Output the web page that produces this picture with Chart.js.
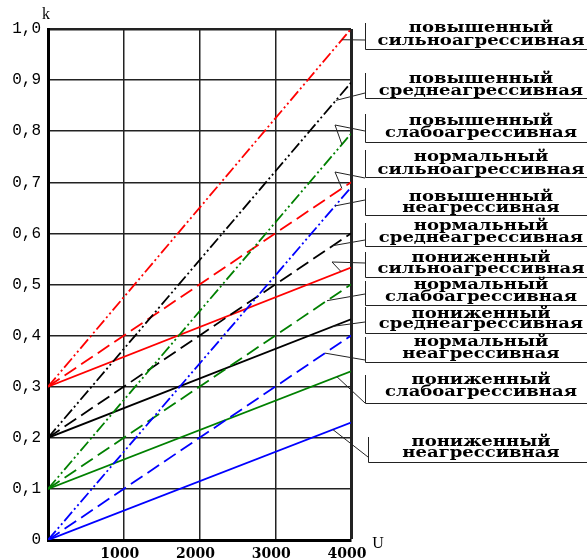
<!DOCTYPE html>
<html>
<head>
<meta charset="utf-8">
<script src="https://cdn.jsdelivr.net/npm/chart.js@4"></script>
<style>
  body { margin: 0; background: #fff; }
  canvas { display: block; }
</style>
</head>
<body>
<canvas id="chart" width="587" height="560"></canvas>
<script>
// curve names (level + aggressiveness), top to bottom as in the legend
const levels = ['повышенный', 'повышенный', 'повышенный', 'нормальный', 'повышенный', 'нормальный',
                'пониженный', 'нормальный', 'пониженный', 'нормальный', 'пониженный', 'пониженный'];
const media = ['сильноагрессивная', 'среднеагрессивная', 'слабоагрессивная', 'сильноагрессивная',
               'неагрессивная', 'среднеагрессивная', 'сильноагрессивная', 'слабоагрессивная',
               'среднеагрессивная', 'неагрессивная', 'слабоагрессивная', 'неагрессивная'];
// k at U = 0 and at U = 4000
const kStart = [0.3, 0.2, 0.1, 0.3, 0, 0.2, 0.3, 0.1, 0.2, 0, 0.1, 0];
const kEnd = [1.0, 0.895, 0.795, 0.70, 0.69, 0.60, 0.533, 0.50, 0.432, 0.40, 0.33, 0.23];
const uRange = [0, 4000];
const uTicks = [1000, 2000, 3000, 4000];

// looks
const colorOf = { 'сильноагрессивная': '#ff0000', 'среднеагрессивная': '#000000',
                  'слабоагрессивная': '#008000', 'неагрессивная': '#0000ff' };
const dashOf = { 'повышенный': [12, 3, 2, 3, 2, 3], 'нормальный': [14, 6], 'пониженный': [] };

// label boxes on the right: [top, bottom, left, line1 y, line2 y]
const boxes = [
  [23, 49, 365, 28, 41], [73, 98, 365, 79, 91], [114, 142, 365, 121, 133], [150, 177, 365, 157, 170],
  [188, 215, 365, 197, 208], [223, 246, 365, 226, 238], [252, 277, 365, 258, 269], [281, 305, 365, 285, 297],
  [307, 333, 365, 314, 324], [337, 362, 365, 342, 354], [375, 403, 365, 380, 392], [437, 462, 368, 442, 453]
];
// leader: anchor y on box, optional elbow [x,y], U where it touches the curve
const leaders = [
  [40, null, 3880], [93, null, 3800], [131, [335, 125], 3880], [178, [335, 172], 3880],
  [200, null, 3790], [240, null, 3760], [263, [332, 262], 3868], [294, null, 3683],
  [322, null, 3760], [360, null, 3657], [403, null, 3815], [457, null, 3760]
];

const datasets = kStart.map((k0, i) => ({
  label: levels[i] + ' ' + media[i],
  data: [{ x: uRange[0], y: k0 }, { x: uRange[1], y: kEnd[i] }],
  borderColor: colorOf[media[i]],
  borderDash: dashOf[levels[i]],
  borderWidth: 1.8,
  pointRadius: 0,
  fill: false,
  tension: 0
}));

const kAt = (i, u) => kStart[i] + (kEnd[i] - kStart[i]) * (u - uRange[0]) / (uRange[1] - uRange[0]);

const annotations = {
  id: 'annotations',
  afterDraw(chart) {
    const ctx = chart.ctx, xs = chart.scales.x, ys = chart.scales.y;
    ctx.save();
    // axis letters
    ctx.fillStyle = '#000';
    ctx.font = '16px "Liberation Serif"';
    ctx.textAlign = 'center';
    ctx.textBaseline = 'alphabetic';
    ctx.fillText('k', 46, 19);
    ctx.fillText('U', 378, 548);

    // boxes, texts, leaders
    ctx.strokeStyle = '#222';
    ctx.lineWidth = 1;
    boxes.forEach((b, i) => {
      const [top, bottom, left, y1, y2] = b;
      ctx.beginPath();
      ctx.moveTo(left + 0.5, top);
      ctx.lineTo(left + 0.5, bottom + 0.5);
      ctx.lineTo(587, bottom + 0.5);
      ctx.stroke();

      ctx.font = 'bold 15px "DejaVu Serif"';
      [[levels[i], y1], [media[i], y2]].forEach(([t, y]) => {
        ctx.save();
        ctx.translate(481, y + 4);
        ctx.scale(1.2, 1);
        ctx.fillText(t, 0, 0);
        ctx.restore();
      });

      const [ay, elbow, u] = leaders[i];
      ctx.beginPath();
      ctx.moveTo(left, ay);
      if (elbow) ctx.lineTo(elbow[0], elbow[1]);
      ctx.lineTo(xs.getPixelForValue(u), ys.getPixelForValue(kAt(i, u)));
      ctx.stroke();
    });
    ctx.restore();
  }
};

new Chart(document.getElementById('chart'), {
  type: 'line',
  data: { datasets },
  options: {
    responsive: false,
    animation: false,
    layout: { padding: { top: 29, right: 236, left: 0, bottom: 0 } },
    plugins: { legend: { display: false }, tooltip: { enabled: false } },
    scales: {
      x: {
        type: 'linear',
        min: uRange[0],
        max: uRange[1],
        afterFit: s => { s.height = 20; },
        afterBuildTicks: s => { s.ticks = [0].concat(uTicks).map(v => ({ value: v })); },
        ticks: {
          callback: v => (v === 0 ? '' : String(v)),
          color: '#000',
          font: { family: 'DejaVu Serif', size: 14, weight: 'bold' },
          padding: 6,
          labelOffset: -4,
          maxRotation: 0
        },
        grid: { color: '#222', lineWidth: c => (c.tick && c.tick.value === 4000 ? 3 : 1.5), drawTicks: false },
        border: { display: true, color: '#000', width: 3 }
      },
      y: {
        min: 0,
        max: 1,
        afterFit: s => { s.width = 48; },
        ticks: {
          stepSize: 0.1,
          callback: v => (v === 0 ? '0' : v.toFixed(1).replace('.', ',')),
          color: '#000',
          font: { family: 'Liberation Mono', size: 16 },
          padding: 7
        },
        grid: { color: '#222', lineWidth: c => (c.tick && c.tick.value === 1 ? 2.5 : 1.5), drawTicks: false },
        border: { display: true, color: '#000', width: 3 }
      }
    }
  },
  plugins: [annotations]
});
</script>
</body>
</html>
